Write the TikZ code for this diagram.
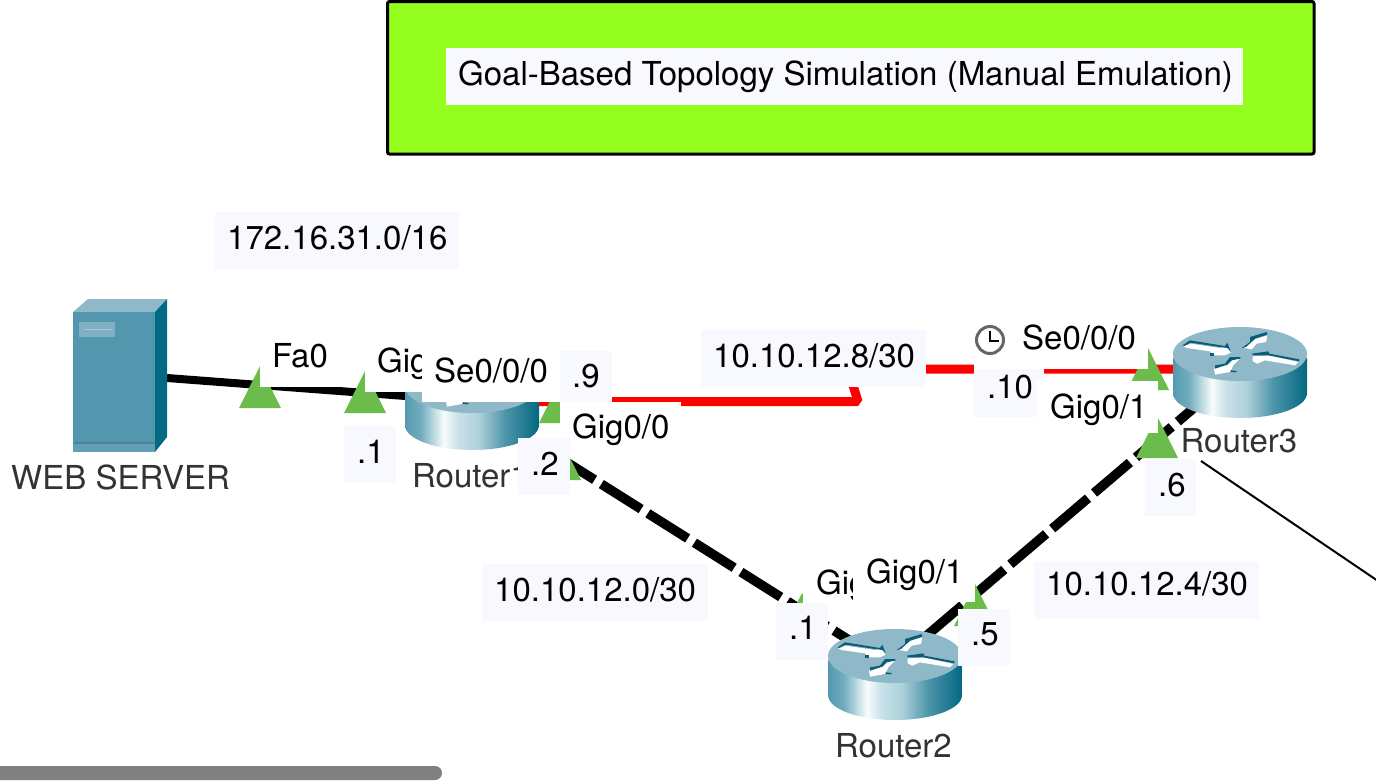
\documentclass[tikz,border=0pt]{standalone}
\usepackage{fontspec}
\setmainfont{TeX Gyre Heros}
\definecolor{labfill}{HTML}{F8F9FF}
\definecolor{lime}{HTML}{94FF1E}
\definecolor{tri}{HTML}{6CBC4C}
\definecolor{rtop}{HTML}{8FB9C9}
\definecolor{rdark}{HTML}{0A5C78}
\definecolor{srvfront}{HTML}{5297AE}
\definecolor{srvside}{HTML}{016A85}
\definecolor{srvslot}{HTML}{80B0C4}
\definecolor{devtext}{HTML}{333333}
\definecolor{redlink}{HTML}{FF0000}
\pgfdeclarehorizontalshading{routerside}{100bp}{
 rgb(0bp)=(0.33,0.60,0.68);
 rgb(25bp)=(0.33,0.60,0.68);
 rgb(31bp)=(0.45,0.68,0.75);
 rgb(39.5bp)=(0.97,0.99,0.99);
 rgb(45bp)=(0.78,0.88,0.91);
 rgb(52.5bp)=(0.68,0.82,0.86);
 rgb(62.5bp)=(0.30,0.58,0.66);
 rgb(75bp)=(0.01,0.41,0.51);
 rgb(100bp)=(0.01,0.41,0.51)}
\newcommand{\routerpic}[2]{%
 \begin{scope}[shift={(#1,#2)}]
  \shade[shading=routerside] (-67,4) -- (-67,39) .. controls (-67,53) and (-37,64) .. (0,64) .. controls (37,64) and (67,53) .. (67,39) -- (67,4) -- cycle;
  \fill[rtop] (0,0) ellipse[x radius=67,y radius=27];
  \begin{scope}[x=.3333pt,y=-.3333pt,shift={(-210,-96)}]
   \fill[white] (40,73) -- (62,65) -- (150,78) -- (168,72) -- (182,92) -- (165,100) -- (130,100) -- (120,88) -- (50,78) -- cycle;
   \fill[rdark] (38,70) -- (60,55) -- (165,72) -- (172,62) -- (182,88) -- (172,78) -- (150,75) -- (62,62) -- (42,72) -- cycle;
   \fill[rdark] (120,94) rectangle (131,102);
   \fill[white] (222,78) -- (258,50) -- (292,40) -- (288,60) -- (260,65) -- (245,82) -- cycle;
   \fill[rdark] (215,78) -- (240,60) -- (240,45) -- (290,30) -- (292,38) -- (255,50) -- (228,75) -- cycle;
   \fill[white] (248,103) -- (295,100) -- (385,120) -- (375,130) -- (285,115) -- (262,125) -- (248,118) -- cycle;
   \fill[rdark] (245,95) -- (295,88) -- (298,95) -- (388,112) -- (388,118) -- (295,100) -- (250,100) -- cycle;
   \fill[white] (132,140) -- (170,125) -- (185,112) -- (210,110) -- (190,130) -- (180,150) -- (135,158) -- cycle;
   \fill[rdark] (135,130) -- (165,125) -- (180,105) -- (212,105) -- (210,110) -- (185,115) -- (172,128) -- (135,140) -- cycle;
   \fill[rdark] (182,145) -- (200,147) -- (198,151) -- (182,150) -- cycle;
  \end{scope}
 \end{scope}}
% name, x0,y0,x1,y1, fill, text x, text baseline y, text
\newcommand{\tbox}[9]{%
 \fill[#6] (#2,#3) rectangle (#4,#5);
 \node[lab] (#1) at (#7,#8) {#9};}
\newcommand{\tritop}[2]{\fill[tri] (#1,#2) -- ({#1-21},{#2+42}) -- ({#1+21},{#2+42}) -- cycle;}
\tikzset{
 lab/.style={anchor=base west,inner sep=0pt,font=\fontsize{33}{36}\selectfont,text=black},
 devlab/.style={lab,text=devtext},
 cable/.style={draw=black,line width=8pt},
 gapcable/.style={draw=black,line width=9.5pt,dash pattern=on 47pt off 8pt},
 serial/.style={draw=redlink,line width=9pt,line join=bevel}
}
\begin{document}
\begin{tikzpicture}[x=1pt,y=-1pt]
\useasboundingbox (0,0) rectangle (1376,782);
\fill[white] (0,0) rectangle (1376,782);
% title box
\draw[fill=lime,draw=black,line width=3pt,rounded corners=2pt] (387.5,1.5) rectangle (1314,154);
% anchors
\coordinate (srv) at (167,378);
\coordinate (r1w) at (412,396.5);
\coordinate (r1e) at (535,401.5);
\coordinate (kinka) at (858,401.5);
\coordinate (kinkb) at (848,369);
\coordinate (r3w) at (1185,369);
\coordinate (r1s) at (540,445.4);
\coordinate (r2nw) at (860,647);
\coordinate (r3s) at (1195,407);
\coordinate (r2ne) at (925,637);
\coordinate (stubstart) at (1201,461);
\coordinate (stubend) at (1378,581);
% links
\draw[cable] (srv) -- (r1w);
\draw[serial] (r1e) -- (kinka) -- (kinkb) -- (r3w);
\draw[gapcable,dash phase=37.5pt] (r1s) -- (r2nw);
\draw[gapcable,dash phase=24.4pt] (r3s) -- (r2ne);
\draw[black,line width=2pt] (stubstart) -- (stubend);
% server
\fill[rtop] (73,312) -- (88,299) -- (167,299) -- (155,312) -- cycle;
\fill[srvside] (155,312) -- (167,299) -- (167,437) -- (155,452) -- cycle;
\fill[srvfront] (73,312) rectangle (155,452);
\fill[srvslot] (79,322) rectangle (115,337);
\draw[srvslot!70!white,line width=.7pt] (84,329) -- (112,329);
\fill[srvfront!88!black] (73,442) rectangle (155,444);
\fill[srvfront!92!white] (73,444) rectangle (155,452);
% routers
\routerpic{472}{386}
\routerpic{895}{656}
\routerpic{1240}{354}
% device labels
\node[devlab] (srvname) at (11,489) {WEB SERVER};
\node[devlab] (r1name) at (412,487) {Router1};
\node[devlab] (r2name) at (835,757) {Router2};
\node[devlab] (r3name) at (1180.5,452) {Router3};
% triangles
\tritop{260}{366}
\tritop{365}{371}
\tritop{560}{381}
\tritop{560}{438}
\tritop{802}{593}
\tritop{975}{584}
\tritop{1148}{348}
\tritop{1157}{416}
% labels
\tbox{title}{446}{48}{1243}{105}{labfill}{458}{85}{Goal-Based Topology Simulation (Manual Emulation)}
\tbox{net16}{215}{212}{459}{269}{labfill}{227}{249}{172.16.31.0/16}
\tbox{net8}{701}{330}{926}{387}{labfill}{713}{367}{10.10.12.8/30}
\tbox{net0}{482}{564}{708}{621}{labfill}{494}{601}{10.10.12.0/30}
\tbox{net4}{1034}{562}{1259}{619}{labfill}{1046}{595}{10.10.12.4/30}
\tbox{fazero}{260}{330}{340}{387}{white}{272}{367}{Fa0}
\tbox{gigA}{365}{335}{430}{392}{white}{377}{372}{Gig}
\tbox{seA}{422}{345}{560}{402}{white}{434}{382}{Se0/0/0}
\tbox{dotnine}{560}{351}{612}{402}{labfill}{572}{387}{.9}
\tbox{gigB}{560}{402}{681}{458}{white}{572}{438}{Gig0/0}
\tbox{dotone}{344}{426}{396}{483}{labfill}{357}{463}{.1}
\tbox{dottwo}{518}{438}{570}{495}{labfill}{531}{475}{.2}
\tbox{gigC}{803}{555}{870}{605}{white}{816}{594}{Gig}
\tbox{gigD}{853}{550}{975}{602}{white}{866}{583}{Gig0/1}
\tbox{dotoneb}{776}{603}{828}{660}{labfill}{789}{639}{.1}
\tbox{dotfive}{958}{609}{1010}{666}{labfill}{971}{645}{.5}
\tbox{seB}{974}{320}{1148}{369}{white}{1022}{349}{Se0/0/0}
\tbox{dotten}{974}{369}{1044}{417}{labfill}{987}{398}{.10}
\tbox{gigE}{1037}{381}{1158}{433}{white}{1050}{418}{Gig0/1}
\tbox{dotsix}{1145}{459}{1196}{516}{labfill}{1158}{496}{.6}
% clock
\draw[fill=white,draw=black!60,line width=3pt] (990,340) circle[radius=13.5];
\draw[black,line width=2pt] (990,331) -- (990,341) -- (999,341);
% scrollbar
\fill[black!50,rounded corners=7pt] (-20,766) rectangle (442,780);
\end{tikzpicture}
\end{document}
